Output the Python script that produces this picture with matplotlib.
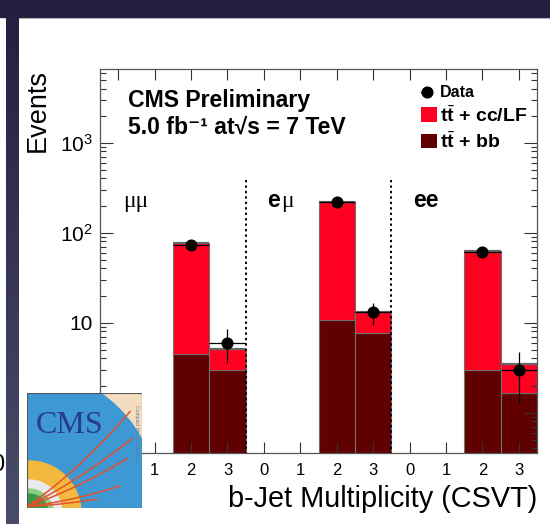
import numpy as np
import matplotlib.pyplot as plt
from matplotlib.patches import Rectangle, Circle
from matplotlib.colors import LinearSegmentedColormap
from matplotlib.ticker import LogLocator, NullFormatter

plt.rcParams['font.family'] = ['Liberation Sans', 'DejaVu Sans']
plt.rcParams['mathtext.fontset'] = 'custom'
plt.rcParams['mathtext.rm'] = 'Liberation Sans'
plt.rcParams['mathtext.bf'] = 'Liberation Sans:bold'
plt.rcParams['mathtext.it'] = 'Liberation Sans:italic'

W, H = 550, 524

# b-jet multiplicity bins (0..3) for the mumu, emu and ee channels
bin_labels = ["0", "1", "2", "3"] * 3

# stacked expectation per bin
tt_bb = [0, 0, 4.5, 3.0, 0, 0, 10.7, 7.6, 0, 0, 3.0, 1.65]
tt_cclf = [0, 0, 73.0, 2.05, 0, 0, 208.0, 5.6, 0, 0, 59.5, 1.85]
# observed events
data = [0, 0, 73, 6, 0, 0, 221, 13, 0, 0, 61, 3]

C_CCLF = '#ff0020'
C_BB = '#600000'
EDGE = '#707070'
NAVY = '#221f3f'


def fx(px):
    return px / W


def fy(py):
    return 1 - py / H


fig = plt.figure(figsize=(W / 100, H / 100), dpi=100)

# ---- slide frame ----
fig.add_artist(Rectangle((0, fy(17)), 1, 17 / H, transform=fig.transFigure,
                         color=NAVY, zorder=0))
fig.add_artist(Rectangle((0, fy(9)), fx(8), 9 / H, transform=fig.transFigure,
                         color=NAVY, zorder=0))
fig.add_artist(plt.Line2D([fx(19), 1], [fy(17.5), fy(17.5)], transform=fig.transFigure,
                          color='#b0b0b8', lw=0.8, zorder=0))
band = fig.add_axes([fx(6), 0, 13 / W, 1], zorder=1)
band.imshow(np.linspace(0, 1, 256).reshape(-1, 1), aspect='auto',
            cmap=LinearSegmentedColormap.from_list('band', [NAVY, '#4a4d69']),
            extent=(0, 1, 0, 1), origin='upper')
band.axis('off')
fig.text(fx(4), fy(471), '0', ha='right', va='baseline', fontsize=17)

# ---- main plot ----
ax = fig.add_axes([fx(100), fy(453), 437 / W, 384 / H])
ax.set_yscale('log')

x = np.arange(len(bin_labels)) + 0.5
bb = np.array(tt_bb)
cc = np.array(tt_cclf)
d = np.array(data, dtype=float)

m = bb > 0
ax.bar(x[m], bb[m], width=1.0, color=C_BB, edgecolor=EDGE, linewidth=0.8)
ax.bar(x[m], cc[m], bottom=bb[m], width=1.0, color=C_CCLF, edgecolor=EDGE, linewidth=0.8)
ax.hlines((bb + cc)[m], x[m] - 0.5, x[m] + 0.5, colors='#666666', linewidth=1.6)

md = d > 0
ax.errorbar(x[md], d[md], yerr=np.sqrt(d[md]), xerr=0.5, fmt='o', color='black',
            ms=7.7, elinewidth=0.9, capsize=0, zorder=5)

# channel separators
ax.vlines([4, 8], 0.3, 400, colors='black', linestyles=(0, (1.2, 1.6)), linewidth=1.4)

ax.set_xlim(0, 12)
ax.set_ylim(0.356, 6590)

ax.set_xticks(x)
ax.set_xticklabels(bin_labels)
ax.set_yticks([1, 10, 100, 1000])
ax.set_yticklabels(['', '10', r'$10^{2}$', r'$10^{3}$'])
ax.yaxis.set_minor_locator(LogLocator(base=10, subs=np.arange(2, 10)))
ax.yaxis.set_minor_formatter(NullFormatter())
ax.tick_params(axis='both', which='both', direction='in', top=True, right=True,
               color='#333333')
ax.tick_params(axis='x', which='major', length=8, width=0.8, labelsize=12, pad=7)
ax.tick_params(axis='x', which='minor', bottom=False, top=False)
ax.tick_params(axis='y', which='major', length=9.5, width=0.8, labelsize=15, pad=5)
ax.tick_params(axis='y', which='minor', length=4.5, width=0.8)
for s in ax.spines.values():
    s.set_color('#555555')
    s.set_linewidth(0.9)

ax.set_xlabel('b-Jet Multiplicity (CSVT)', loc='right', fontsize=20.8)
ax.xaxis.set_label_coords(1.0, -0.084)
ax.set_ylabel('Events', loc='top', fontsize=19.5)
ax.yaxis.set_label_coords(-0.112, 1.0)

# header
ax.text(0.064, 0.901, 'CMS Preliminary', transform=ax.transAxes, fontsize=16.6,
        fontweight='bold', va='baseline')
ax.text(0.064, 0.831, '5.0 fb\u207b\u00b9 at\u221as = 7 TeV',
        transform=ax.transAxes, fontsize=16.6, fontweight='bold', va='baseline')

# channel labels
ax.text(0.0526, 0.641, 'μμ', transform=ax.transAxes, fontsize=17,
        family='Liberation Serif', va='baseline')
ax.text(0.382, 0.641, 'e', transform=ax.transAxes, fontsize=16.5, fontweight='bold',
        va='baseline')
ax.text(0.414, 0.641, 'μ', transform=ax.transAxes, fontsize=17,
        family='Liberation Serif', va='baseline')
ax.text(0.716, 0.641, 'ee', transform=ax.transAxes, fontsize=16.5, fontweight='bold',
        va='baseline')

# legend
ax.plot([0.735, 0.76], [0.940, 0.940], transform=ax.transAxes, color='black', lw=0.9)
ax.plot([0.748], [0.940], 'o', transform=ax.transAxes, color='black', ms=7.7)
ax.add_patch(Rectangle((0.7346, 0.862), 0.0366, 0.039, transform=ax.transAxes,
                       facecolor=C_CCLF, edgecolor='none'))
ax.add_patch(Rectangle((0.7346, 0.794), 0.0366, 0.0365, transform=ax.transAxes,
                       facecolor=C_BB, edgecolor='none'))
ax.text(0.778, 0.928, 'Data', transform=ax.transAxes, fontsize=11.5,
        fontweight='bold', va='baseline')
ax.text(0.778, 0.862, r'$\mathbf{t}\bar{\mathbf{t}}$ + cc/LF', transform=ax.transAxes,
        fontsize=14, fontweight='bold', va='baseline')
ax.text(0.778, 0.795, r'$\mathbf{t}\bar{\mathbf{t}}$ + bb', transform=ax.transAxes,
        fontsize=14, fontweight='bold', va='baseline')

# ---- experiment logo ----
lg = fig.add_axes([fx(27), fy(508), 115 / W, 115 / H], zorder=10)
lg.set_xlim(0, 115)
lg.set_ylim(0, 115)
lg.axis('off')
lg.add_patch(Rectangle((0, 0), 115, 115, facecolor='#f4dcbf', edgecolor='none'))
lg.add_patch(Circle((0, 7.5), 130, color='#3d98d4'))
lg.add_patch(Circle((2, -5), 52, color='#f3b93e'))
lg.add_patch(Circle((2, -5), 33, color='#e9e9ee'))
lg.add_patch(Circle((2, -5), 24, color='#8ccf84'))
lg.add_patch(Circle((2, -5), 19, color='#3a9a47'))
for a, b, xe in [(0.68, 0.00234, 103), (0.5, 0.0014, 105), (0.35, 0.0013, 100),
                 (0.12, 0.0011, 93), (0.05, 0.0008, 70)]:
    xs = np.linspace(1.5, xe, 60)
    lg.plot(xs, 1.5 + a * xs + b * xs ** 2, color='#e4502a', lw=1.1)
lg.text(9, 75, 'CMS', family='Liberation Serif', fontsize=23, color='#2a3b8c',
        va='baseline')
lg.text(110, 75, 'Compact Muon Solenoid', rotation=-90, fontsize=3.6,
        color='#6a7aa0', ha='center', va='center')
lg.add_patch(Rectangle((0, 0), 115, 115, facecolor='none', edgecolor='#555555', lw=0.8))

fig.savefig('out.png', dpi=100)
